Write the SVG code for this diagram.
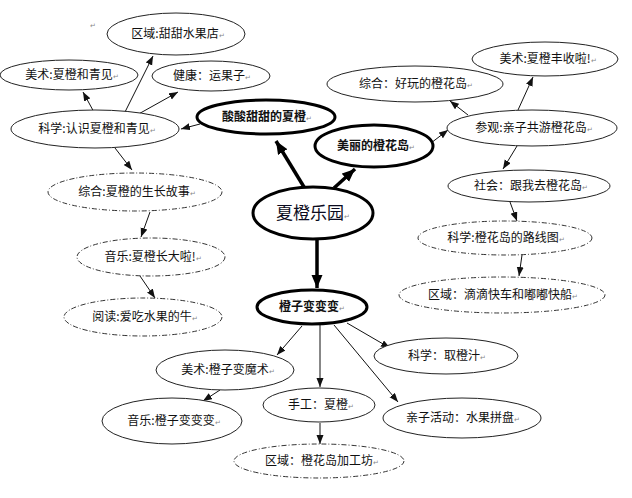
<svg xmlns="http://www.w3.org/2000/svg" width="632" height="498" viewBox="0 0 632 498">
<style>
.n{fill:#fff;stroke:#222;stroke-width:1}
.d{fill:#fff;stroke:#333;stroke-width:1;stroke-dasharray:5 2 1 2}
.k{fill:#fff;stroke:#000;stroke-width:3}
.t{font-family:"Noto Sans CJK SC","Noto Sans",sans-serif;font-size:12px;fill:#111;text-anchor:middle}
.b{font-weight:bold}
.big{font-size:17px;fill:#0b0b20}
.pm{font-size:7px;fill:#888;font-weight:normal}
.c{stroke:#111;stroke-width:1;fill:none;marker-end:url(#a)}
.ct{stroke:#000;stroke-width:3.5;fill:none;marker-end:url(#A)}
</style>
<defs>
<marker id="a" markerUnits="userSpaceOnUse" markerWidth="10" markerHeight="8" refX="9" refY="3.5" orient="auto"><path d="M0,0 L9,3.5 L0,7 z" fill="#111"/></marker>
<marker id="A" markerUnits="userSpaceOnUse" markerWidth="14" markerHeight="12" refX="13" refY="5.5" orient="auto"><path d="M0,0 L13,5.5 L0,11 z" fill="#000"/></marker>
</defs>
<rect width="632" height="498" fill="#fff"/>
<g id="connectors">
<line class="ct" x1="304" y1="187" x2="276" y2="141"/>
<line class="ct" x1="334" y1="188" x2="355" y2="169"/>
<line class="ct" x1="317" y1="240" x2="317" y2="288"/>
<line class="c" x1="200" y1="124" x2="181" y2="129"/>
<line class="c" x1="95" y1="114" x2="83" y2="92"/>
<line class="c" x1="125" y1="112" x2="153" y2="56"/>
<line class="c" x1="135" y1="116" x2="178" y2="92"/>
<line class="c" x1="115" y1="148" x2="132" y2="170"/>
<line class="c" x1="150" y1="212" x2="141" y2="237"/>
<line class="c" x1="140" y1="276" x2="155" y2="298"/>
<line class="c" x1="431" y1="143" x2="448" y2="130"/>
<line class="c" x1="468" y1="115" x2="450" y2="101"/>
<line class="c" x1="518" y1="110" x2="533" y2="77"/>
<line class="c" x1="517" y1="146" x2="503" y2="169"/>
<line class="c" x1="510" y1="202" x2="517" y2="221"/>
<line class="c" x1="522" y1="255" x2="519" y2="276"/>
<line class="c" x1="302" y1="326" x2="277" y2="355"/>
<line class="c" x1="320" y1="324" x2="320" y2="387"/>
<line class="c" x1="320" y1="423" x2="320" y2="444"/>
<line class="c" x1="220" y1="390" x2="203" y2="401"/>
<line class="c" x1="347" y1="323" x2="390" y2="348"/>
<line class="c" x1="334" y1="325" x2="398" y2="402"/>
</g>
<g id="n-center"><ellipse class="k" cx="313" cy="213" rx="60" ry="26"/><text class="t big" x="313" y="219">夏橙乐园<tspan class="pm">↵</tspan></text></g>
<g id="n-suan"><ellipse class="k" cx="266" cy="117" rx="69" ry="17"/><text class="t b" x="267" y="121">酸酸甜甜的夏橙<tspan class="pm">↵</tspan></text></g>
<g id="n-meili"><ellipse class="k" cx="374" cy="146" rx="59" ry="21"/><text class="t b" x="376" y="150">美丽的橙花岛<tspan class="pm">↵</tspan></text></g>
<g id="n-bian"><ellipse class="k" cx="312" cy="307" rx="55" ry="17"/><text class="t b" x="312" y="311">橙子变变变<tspan class="pm">↵</tspan></text></g>
<g id="n-quyu1"><ellipse class="n" cx="176" cy="34" rx="69" ry="21"/><text class="t" x="178" y="38">区域:甜甜水果店<tspan class="pm">↵</tspan></text></g>
<g id="n-meishu1"><ellipse class="n" cx="69" cy="75" rx="69" ry="15"/><text class="t" x="72" y="79">美术:夏橙和青见<tspan class="pm">↵</tspan></text></g>
<g id="n-jiankang"><ellipse class="n" cx="211" cy="76" rx="59" ry="15"/><text class="t" x="212" y="80">健康：运果子<tspan class="pm">↵</tspan></text></g>
<g id="n-kexue1"><ellipse class="n" cx="95" cy="129" rx="84" ry="19"/><text class="t" x="97" y="133">科学:认识夏橙和青见<tspan class="pm">↵</tspan></text></g>
<g id="n-zonghe1"><ellipse class="d" cx="135" cy="192" rx="87" ry="19"/><text class="t" x="137" y="196">综合:夏橙的生长故事<tspan class="pm">↵</tspan></text></g>
<g id="n-yinyue1"><ellipse class="d" cx="151" cy="257" rx="74" ry="19"/><text class="t" x="153" y="261">音乐:夏橙长大啦!<tspan class="pm">↵</tspan></text></g>
<g id="n-yuedu"><ellipse class="d" cx="143" cy="317" rx="79" ry="19"/><text class="t" x="145" y="321">阅读:爱吃水果的牛<tspan class="pm">↵</tspan></text></g>
<g id="n-meishu2"><ellipse class="n" cx="545" cy="59" rx="73" ry="17"/><text class="t" x="548" y="63">美术:夏橙丰收啦!<tspan class="pm">↵</tspan></text></g>
<g id="n-zonghe2"><ellipse class="n" cx="415" cy="84" rx="88" ry="18"/><text class="t" x="416" y="88">综合：好玩的橙花岛<tspan class="pm">↵</tspan></text></g>
<g id="n-canguan"><ellipse class="n" cx="532" cy="128" rx="85" ry="18"/><text class="t" x="534" y="132">参观:亲子共游橙花岛<tspan class="pm">↵</tspan></text></g>
<g id="n-shehui"><ellipse class="n" cx="529" cy="186" rx="81" ry="16"/><text class="t" x="531" y="190">社会：跟我去橙花岛<tspan class="pm">↵</tspan></text></g>
<g id="n-kexue2"><ellipse class="d" cx="505" cy="238" rx="87" ry="17"/><text class="t" x="506" y="242">科学:橙花岛的路线图<tspan class="pm">↵</tspan></text></g>
<g id="n-quyu2"><ellipse class="d" cx="502" cy="295" rx="103" ry="18"/><text class="t" x="503" y="299">区域：滴滴快车和嘟嘟快船<tspan class="pm">↵</tspan></text></g>
<g id="n-meishu3"><ellipse class="n" cx="225" cy="370" rx="69" ry="20"/><text class="t" x="228" y="374">美术:橙子变魔术<tspan class="pm">↵</tspan></text></g>
<g id="n-yinyue2"><ellipse class="n" cx="172" cy="421" rx="70" ry="23"/><text class="t" x="174" y="425">音乐:橙子变变变<tspan class="pm">↵</tspan></text></g>
<g id="n-shougong"><ellipse class="n" cx="319" cy="405" rx="56" ry="17"/><text class="t" x="321" y="409">手工：夏橙<tspan class="pm">↵</tspan></text></g>
<g id="n-quyu3"><ellipse class="d" cx="319" cy="461" rx="85" ry="17"/><text class="t" x="322" y="465">区域：橙花岛加工坊<tspan class="pm">↵</tspan></text></g>
<g id="n-kexue3"><ellipse class="n" cx="446" cy="356" rx="72" ry="18"/><text class="t" x="447" y="360">科学：取橙汁<tspan class="pm">↵</tspan></text></g>
<g id="n-qinzi"><ellipse class="n" cx="462" cy="418" rx="79" ry="20"/><text class="t" x="463" y="422">亲子活动：水果拼盘<tspan class="pm">↵</tspan></text></g>
<text class="t pm" x="93" y="28">↵</text>
</svg>
